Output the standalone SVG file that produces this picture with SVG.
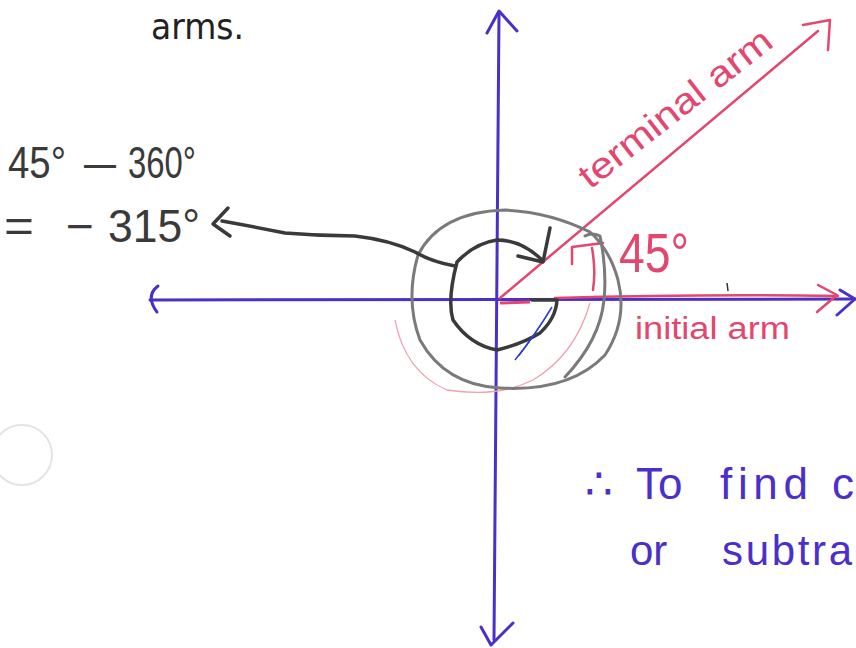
<svg xmlns="http://www.w3.org/2000/svg" width="856" height="648" viewBox="0 0 856 648">
<style>
.ax{fill:none;stroke:#4b2fc9;stroke-width:3;stroke-linecap:round;stroke-linejoin:round}
.red{fill:none;stroke:#e3466e;stroke-width:2.5;stroke-linecap:round;stroke-linejoin:round}
.dk{fill:none;stroke:#3a3a3a;stroke-width:3.5;stroke-linecap:round;stroke-linejoin:round}
.gr{fill:none;stroke:#7a7a7a;stroke-width:3;stroke-linecap:round;stroke-linejoin:round}
.hw{font-family:"Liberation Sans","DejaVu Sans",sans-serif}
.tk{fill:#3a3a3a}
.tr{fill:#e3466e}
.tb{fill:#4b2fc9}
</style>
<rect width="856" height="648" fill="#ffffff"/>
<circle cx="22" cy="455" r="30" fill="none" stroke="#e4e4e4" stroke-width="2"/>

<g id="title">
<text x="151" y="39" font-size="36" fill="#222" font-family="DejaVu Sans, sans-serif" textLength="93" lengthAdjust="spacingAndGlyphs">arms.</text>
</g>

<g id="axes">
<path class="ax" d="M499 13 L494 640"/>
<path class="ax" d="M487 33 L499 11 L517 31"/>
<path class="ax" d="M481 627 L491 645 L513 623"/>
<path class="ax" d="M150 300 L855 299"/>
<path class="ax" d="M158 286 Q145 296 157 312"/>
<path class="ax" d="M840 290 L855 299 L837 315"/>
</g>

<g id="terminal-arm">
<path class="red" d="M500 298 L818 31"/>
<path class="red" d="M803 25 L830 20 L828 50"/>
<text class="hw tr" font-size="36" transform="translate(590,190) rotate(-38)" textLength="235" lengthAdjust="spacingAndGlyphs">terminal arm</text>
</g>

<g id="initial-arm">
<path class="red" d="M555 298 Q700 294 838 296"/>
<path class="red" d="M818 285 L837 295 L817 312"/>
<path d="M500 303 L530 302" stroke="#e3466e" stroke-width="3" fill="none"/>
<text x="635" y="339" class="hw tr" font-size="31" textLength="155" lengthAdjust="spacingAndGlyphs">initial arm</text>
</g>

<g id="angle-45">
<path class="red" d="M592 248 Q596 270 593 290"/>
<path class="red" d="M572 264 L572 247 L603 243"/>
<text x="619" y="272" class="hw tr" font-size="56" textLength="70" lengthAdjust="spacingAndGlyphs">45°</text>
</g>

<g id="rotation-315">
<path d="M395 320 Q405 372 447 390 Q497 398 533 380 Q575 355 590 303" fill="none" stroke="#f0a0b0" stroke-width="1.3"/>
<path class="gr" d="M590 232 Q550 212 505 210 Q440 212 418 255 Q405 300 420 340 Q445 385 500 388 Q570 392 605 355 Q628 320 618 280 Q610 250 590 232"/>
<path class="gr" d="M585 236 Q592 232 600 236 Q607 270 604 300 Q600 340 565 377"/>
<path class="dk" d="M532 300 L557 300 Q556 318 540 333 Q522 344 497 350 Q470 345 453 320 Q447 300 457 262 Q475 243 497 240 Q522 240 543 261"/>
<path class="dk" d="M550 228 L543 262 L518 256"/>
<path d="M552 307 Q535 335 515 360" fill="none" stroke="#2a3fd0" stroke-width="1.5"/>
<path d="M549 312 Q533 338 519 356" fill="none" stroke="#2a3fd0" stroke-width="1"/>
</g>

<g id="calculation">
<text y="178" class="hw tk" font-size="44"><tspan x="8" textLength="58" lengthAdjust="spacingAndGlyphs">45°</tspan><tspan x="84" textLength="32" lengthAdjust="spacingAndGlyphs">—</tspan><tspan x="128" textLength="68" lengthAdjust="spacingAndGlyphs">360°</tspan></text>
<text y="242" class="hw tk" font-size="46"><tspan x="4" textLength="30" lengthAdjust="spacingAndGlyphs">=</tspan><tspan x="66" textLength="28" lengthAdjust="spacingAndGlyphs">−</tspan><tspan x="108" textLength="92" lengthAdjust="spacingAndGlyphs">315°</tspan></text>
</g>

<g id="connectors">
<path class="dk" d="M222 221 Q250 226 285 233 Q320 236 355 236 Q390 240 415 252 Q432 262 455 266" stroke-width="3"/>
<path class="dk" d="M228 208 L213 224 L230 236" stroke-width="3"/>
</g>

<g id="conclusion">
<text y="499" class="hw tb" font-size="44"><tspan x="585">∴</tspan><tspan x="636">To</tspan><tspan x="720" textLength="88" lengthAdjust="spacing">find</tspan><tspan x="832">c</tspan></text>
<text y="565" class="hw tb" font-size="42"><tspan x="630">or</tspan><tspan x="722" textLength="130" lengthAdjust="spacing">subtra</tspan></text>
</g>
<path d="M727 283 L728 291" stroke="#333" stroke-width="1.5"/>
</svg>
